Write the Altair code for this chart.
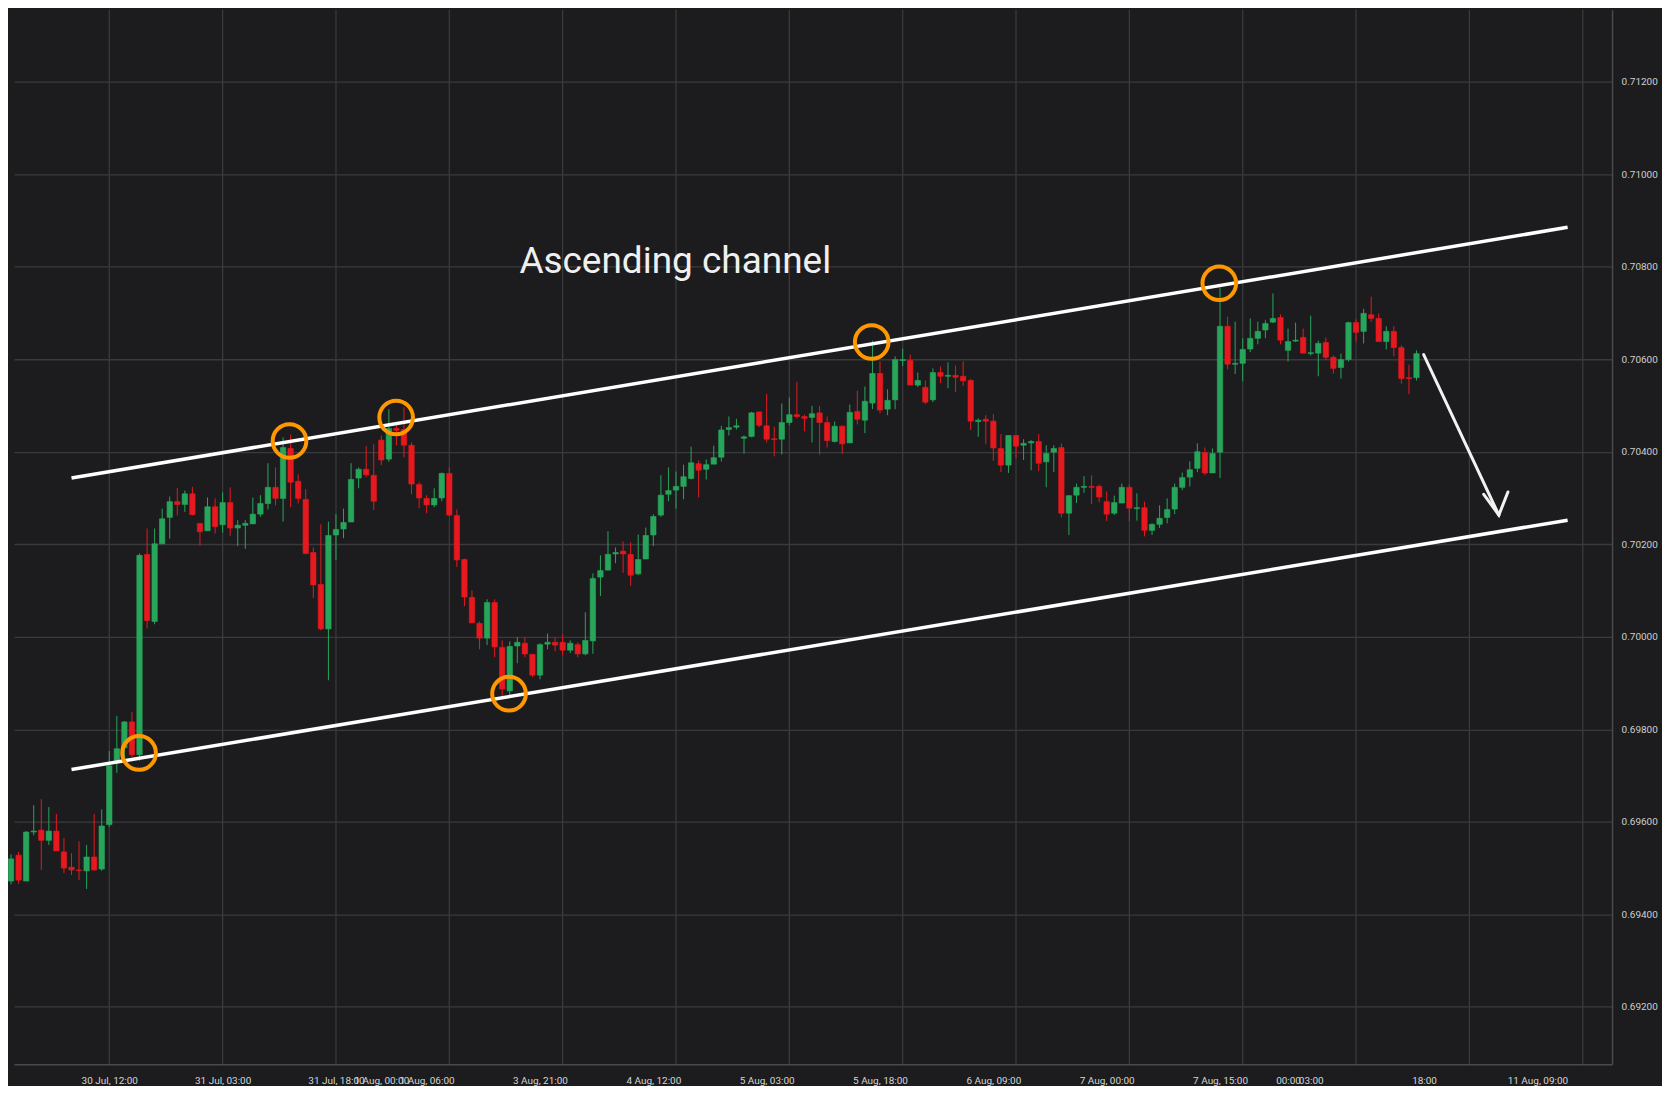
import altair as alt
import pandas as pd

# ---------------- data ----------------
# candle index (hours, 0 = 30 Jul 12:00 on the chart's compressed time axis)
idx = list(range(-13, 174))

opens = [
    0.69472, 0.69528, 0.69472, 0.69578, 0.69582, 0.69560, 0.69580, 0.69535, 0.69502, 0.69496,
    0.69494, 0.69524, 0.69498, 0.69594, 0.69732, 0.69760, 0.69816, 0.69745, 0.70178, 0.70033,
    0.70201, 0.70258, 0.70292, 0.70286, 0.70309, 0.70245, 0.70229, 0.70281, 0.70242, 0.70290,
    0.70235, 0.70241, 0.70244, 0.70265, 0.70288, 0.70323, 0.70299, 0.70407, 0.70336, 0.70297,
    0.70182, 0.70113, 0.70017, 0.70220, 0.70233, 0.70248, 0.70343, 0.70362, 0.70349, 0.70425,
    0.70384, 0.70450, 0.70448, 0.70414, 0.70329, 0.70299, 0.70285, 0.70300, 0.70353, 0.70262,
    0.70167, 0.70085, 0.70029, 0.69997, 0.70074, 0.69977, 0.69883, 0.69980, 0.69986, 0.69962,
    0.69917, 0.69984, 0.69988, 0.69988, 0.69971, 0.69983, 0.69963, 0.69991, 0.70129, 0.70144,
    0.70179, 0.70185, 0.70178, 0.70136, 0.70168, 0.70220, 0.70263, 0.70308, 0.70317, 0.70325,
    0.70342, 0.70374, 0.70362, 0.70373, 0.70388, 0.70448, 0.70453, 0.70429, 0.70433, 0.70486,
    0.70456, 0.70428, 0.70427, 0.70463, 0.70480, 0.70476, 0.70474, 0.70484, 0.70463, 0.70422,
    0.70455, 0.70419, 0.70487, 0.70468, 0.70505, 0.70569, 0.70492, 0.70512, 0.70597, 0.70597,
    0.70544, 0.70539, 0.70512, 0.70571, 0.70563, 0.70565, 0.70563, 0.70554, 0.70465, 0.70470,
    0.70466, 0.70407, 0.70371, 0.70435, 0.70414, 0.70419, 0.70422, 0.70378, 0.70399, 0.70409,
    0.70267, 0.70306, 0.70323, 0.70325, 0.70325, 0.70292, 0.70267, 0.70289, 0.70323, 0.70277,
    0.70279, 0.70230, 0.70243, 0.70258, 0.70276, 0.70323, 0.70345, 0.70364, 0.70398, 0.70354,
    0.70399, 0.70671, 0.70589, 0.70591, 0.70622, 0.70645, 0.70663, 0.70680, 0.70690, 0.70619,
    0.70639, 0.70647, 0.70612, 0.70613, 0.70636, 0.70604, 0.70582, 0.70599, 0.70679, 0.70660,
    0.70696, 0.70688, 0.70638, 0.70660, 0.70625, 0.70560, 0.70560,
]
highs = [
    0.69530, 0.69535, 0.69580, 0.69636, 0.69649, 0.69632, 0.69617, 0.69565, 0.69532, 0.69558,
    0.69550, 0.69617, 0.69627, 0.69753, 0.69829, 0.69818, 0.69837, 0.70180, 0.70234, 0.70234,
    0.70277, 0.70303, 0.70322, 0.70316, 0.70324, 0.70245, 0.70301, 0.70299, 0.70312, 0.70323,
    0.70252, 0.70252, 0.70301, 0.70306, 0.70375, 0.70366, 0.70431, 0.70437, 0.70351, 0.70319,
    0.70193, 0.70243, 0.70249, 0.70265, 0.70277, 0.70375, 0.70366, 0.70412, 0.70416, 0.70435,
    0.70492, 0.70461, 0.70496, 0.70420, 0.70334, 0.70306, 0.70321, 0.70355, 0.70366, 0.70275,
    0.70169, 0.70100, 0.70033, 0.70081, 0.70081, 0.69992, 0.69990, 0.69999, 0.69999, 0.69962,
    0.69986, 0.70007, 0.69999, 0.70005, 0.69992, 0.69988, 0.70053, 0.70137, 0.70176, 0.70228,
    0.70193, 0.70206, 0.70204, 0.70221, 0.70236, 0.70265, 0.70349, 0.70366, 0.70357, 0.70372,
    0.70411, 0.70381, 0.70383, 0.70413, 0.70456, 0.70476, 0.70471, 0.70435, 0.70486, 0.70486,
    0.70525, 0.70454, 0.70504, 0.70517, 0.70551, 0.70480, 0.70499, 0.70499, 0.70476, 0.70465,
    0.70457, 0.70502, 0.70532, 0.70541, 0.70640, 0.70595, 0.70535, 0.70606, 0.70623, 0.70610,
    0.70571, 0.70554, 0.70580, 0.70584, 0.70593, 0.70586, 0.70595, 0.70557, 0.70472, 0.70479,
    0.70481, 0.70438, 0.70435, 0.70435, 0.70427, 0.70425, 0.70438, 0.70414, 0.70414, 0.70418,
    0.70305, 0.70331, 0.70347, 0.70349, 0.70329, 0.70314, 0.70305, 0.70331, 0.70329, 0.70310,
    0.70292, 0.70245, 0.70284, 0.70299, 0.70331, 0.70355, 0.70379, 0.70418, 0.70409, 0.70407,
    0.70755, 0.70692, 0.70681, 0.70645, 0.70688, 0.70681, 0.70684, 0.70742, 0.70697, 0.70666,
    0.70679, 0.70666, 0.70694, 0.70640, 0.70647, 0.70608, 0.70612, 0.70681, 0.70686, 0.70709,
    0.70735, 0.70699, 0.70671, 0.70671, 0.70630, 0.70588, 0.70619,
]
lows = [
    0.69465, 0.69466, 0.69472, 0.69571, 0.69496, 0.69550, 0.69537, 0.69489, 0.69485, 0.69474,
    0.69455, 0.69494, 0.69494, 0.69589, 0.69706, 0.69739, 0.69740, 0.69732, 0.70018, 0.70027,
    0.70201, 0.70212, 0.70262, 0.70270, 0.70262, 0.70197, 0.70229, 0.70223, 0.70225, 0.70218,
    0.70196, 0.70190, 0.70244, 0.70259, 0.70275, 0.70284, 0.70249, 0.70280, 0.70288, 0.70178,
    0.70084, 0.70014, 0.69906, 0.70166, 0.70213, 0.70248, 0.70321, 0.70345, 0.70274, 0.70371,
    0.70378, 0.70414, 0.70388, 0.70308, 0.70278, 0.70267, 0.70280, 0.70293, 0.70261, 0.70151,
    0.70066, 0.70030, 0.69973, 0.69982, 0.69956, 0.69867, 0.69867, 0.69943, 0.69956, 0.69913,
    0.69908, 0.69973, 0.69969, 0.69960, 0.69965, 0.69956, 0.69960, 0.69963, 0.70088, 0.70144,
    0.70159, 0.70138, 0.70110, 0.70133, 0.70168, 0.70196, 0.70259, 0.70293, 0.70277, 0.70297,
    0.70340, 0.70301, 0.70340, 0.70373, 0.70379, 0.70435, 0.70448, 0.70396, 0.70431, 0.70453,
    0.70420, 0.70390, 0.70394, 0.70457, 0.70472, 0.70444, 0.70420, 0.70394, 0.70409, 0.70420,
    0.70395, 0.70419, 0.70459, 0.70440, 0.70492, 0.70483, 0.70479, 0.70492, 0.70585, 0.70544,
    0.70540, 0.70503, 0.70507, 0.70548, 0.70537, 0.70529, 0.70542, 0.70447, 0.70432, 0.70417,
    0.70380, 0.70356, 0.70354, 0.70386, 0.70382, 0.70360, 0.70358, 0.70323, 0.70356, 0.70258,
    0.70220, 0.70289, 0.70311, 0.70287, 0.70291, 0.70250, 0.70263, 0.70289, 0.70250, 0.70251,
    0.70217, 0.70220, 0.70235, 0.70245, 0.70265, 0.70317, 0.70325, 0.70356, 0.70349, 0.70354,
    0.70343, 0.70578, 0.70568, 0.70552, 0.70615, 0.70632, 0.70645, 0.70678, 0.70632, 0.70595,
    0.70637, 0.70613, 0.70608, 0.70563, 0.70599, 0.70569, 0.70558, 0.70595, 0.70638, 0.70634,
    0.70681, 0.70638, 0.70621, 0.70606, 0.70547, 0.70524, 0.70554,
]
closes = [
    0.69520, 0.69474, 0.69578, 0.69580, 0.69560, 0.69580, 0.69537, 0.69500, 0.69496, 0.69495,
    0.69524, 0.69496, 0.69591, 0.69721, 0.69758, 0.69816, 0.69745, 0.70176, 0.70035, 0.70201,
    0.70255, 0.70292, 0.70286, 0.70309, 0.70264, 0.70227, 0.70281, 0.70238, 0.70290, 0.70235,
    0.70241, 0.70245, 0.70265, 0.70288, 0.70323, 0.70299, 0.70409, 0.70334, 0.70299, 0.70180,
    0.70112, 0.70017, 0.70219, 0.70232, 0.70247, 0.70340, 0.70362, 0.70350, 0.70293, 0.70382,
    0.70450, 0.70446, 0.70414, 0.70330, 0.70300, 0.70285, 0.70299, 0.70353, 0.70263, 0.70166,
    0.70086, 0.70030, 0.69997, 0.70074, 0.69978, 0.69887, 0.69979, 0.69988, 0.69963, 0.69917,
    0.69983, 0.69988, 0.69982, 0.69971, 0.69986, 0.69963, 0.69992, 0.70126, 0.70143, 0.70178,
    0.70182, 0.70179, 0.70133, 0.70167, 0.70219, 0.70260, 0.70306, 0.70316, 0.70325, 0.70346,
    0.70376, 0.70360, 0.70372, 0.70387, 0.70447, 0.70452, 0.70456, 0.70432, 0.70484, 0.70457,
    0.70427, 0.70426, 0.70463, 0.70480, 0.70476, 0.70472, 0.70482, 0.70463, 0.70424, 0.70455,
    0.70417, 0.70485, 0.70470, 0.70509, 0.70569, 0.70490, 0.70511, 0.70599, 0.70599, 0.70544,
    0.70554, 0.70507, 0.70571, 0.70563, 0.70565, 0.70561, 0.70553, 0.70466, 0.70468, 0.70466,
    0.70408, 0.70371, 0.70435, 0.70412, 0.70418, 0.70422, 0.70375, 0.70396, 0.70407, 0.70267,
    0.70305, 0.70323, 0.70325, 0.70323, 0.70302, 0.70265, 0.70290, 0.70323, 0.70278, 0.70279,
    0.70230, 0.70243, 0.70256, 0.70275, 0.70323, 0.70344, 0.70361, 0.70400, 0.70354, 0.70396,
    0.70671, 0.70589, 0.70591, 0.70621, 0.70645, 0.70660, 0.70677, 0.70688, 0.70641, 0.70638,
    0.70641, 0.70613, 0.70614, 0.70634, 0.70604, 0.70580, 0.70599, 0.70679, 0.70658, 0.70699,
    0.70688, 0.70638, 0.70660, 0.70625, 0.70558, 0.70558, 0.70612,
]

# x-axis labels (candle index -> text) and vertical grid positions
label_idx = [0, 15, 30, 36, 42, 57, 72, 87, 102, 117, 132, 147, 156, 159, 174, 189]
label_txt = ["30 Jul, 12:00", "31 Jul, 03:00", "31 Jul, 18:00", "1 Aug, 00:00",
             "1 Aug, 06:00", "3 Aug, 21:00", "4 Aug, 12:00", "5 Aug, 03:00",
             "5 Aug, 18:00", "6 Aug, 09:00", "7 Aug, 00:00", "7 Aug, 15:00",
             "00:00", "03:00", "18:00", "11 Aug, 09:00"]
grid_idx = [0, 15, 30, 45, 60, 75, 90, 105, 120, 135, 150, 165, 180, 195]
price_ticks = [0.692, 0.694, 0.696, 0.698, 0.700, 0.702, 0.704, 0.706, 0.708, 0.710, 0.712]

# channel lines (start / end points)
chan_name = ["upper", "upper", "lower", "lower"]
chan_idx = [-5.0, 193.0, -5.0, 193.0]
chan_val = [0.70343, 0.70885, 0.69713, 0.70252]

# touch circles
circ_idx = [3.94, 23.85, 37.96, 52.9, 100.9, 146.9]
circ_val = [0.69749, 0.70423, 0.70474, 0.69877, 0.70637, 0.70764]

# arrow (shaft + head)
arrow_seg = ["shaft", "shaft", "head", "head", "head"]
arrow_idx = [173.95, 183.9, 181.9, 183.9, 185.1]
arrow_val = [0.70610, 0.70263, 0.70308, 0.70263, 0.70313]

note_text = ["Ascending channel"]
note_idx = [74.9]
note_val = [0.70809]

# ---------------- styling ----------------
BG = "#1c1c1e"
GRID = "#3a3a3c"
UP = "#27a65b"
DOWN = "#e5191e"
AXIS_FONT = "Liberation Sans Narrow, Roboto, sans-serif"

x_dom = [-11.95, 198.22]
y_dom = [0.690758, 0.713554]

candles = pd.DataFrame({"k": idx, "o": opens, "h": highs, "l": lows, "c": closes})
grid_df = pd.DataFrame({"k": grid_idx})
chan_df = pd.DataFrame({"line": chan_name, "k": chan_idx, "v": chan_val})
circ_df = pd.DataFrame({"k": circ_idx, "v": circ_val})
arrow_df = pd.DataFrame({"seg": arrow_seg, "k": arrow_idx, "v": arrow_val})
note_df = pd.DataFrame({"t": note_text, "k": note_idx, "v": note_val})

label_expr = "".join(
    f"datum.value == {k} ? '{t}' : " for k, t in zip(label_idx, label_txt)
) + "''"

xscale = alt.Scale(domain=x_dom, nice=False, zero=False)
yscale = alt.Scale(domain=y_dom, nice=False, zero=False)

x_axis = alt.Axis(
    values=label_idx, labelExpr=label_expr, grid=False, ticks=False,
    domain=True, domainColor="#4a4a4c", domainWidth=1.5,
    labelColor="#d6d6d6", labelFont=AXIS_FONT, labelFontSize=10,
    labelPadding=11, labelOverlap=False, labelFlush=False, labelBound=False,
    title=None,
)
y_axis = alt.Axis(
    orient="right", values=price_ticks, format=".5f", grid=True,
    gridColor=GRID, gridWidth=1.3, ticks=False, domain=True,
    domainColor="#4a4a4c", domainWidth=1.5,
    labelColor="#cfcfcf", labelFont=AXIS_FONT, labelFontSize=10,
    labelPadding=9, labelOverlap=False, labelFlush=False, title=None,
)

color_scale = alt.Scale(domain=["up", "down"], range=[UP, DOWN])

base = alt.Chart(candles).transform_calculate(
    dir="datum.c >= datum.o ? 'up' : 'down'",
    bt="max(datum.o, datum.c)",
    bb0="min(datum.o, datum.c)",
).transform_calculate(
    bb="datum.bt - datum.bb0 < 0.000015 ? datum.bt - 0.000015 : datum.bb0"
)

grid_rules = alt.Chart(grid_df).mark_rule(color=GRID, strokeWidth=1.3).encode(
    x=alt.X("k:Q", scale=xscale, axis=x_axis)
)

wicks = base.mark_rule(strokeWidth=1).encode(
    x=alt.X("k:Q", scale=xscale, axis=x_axis),
    y=alt.Y("l:Q", scale=yscale, axis=y_axis),
    y2="h:Q",
    color=alt.Color("dir:N", scale=color_scale, legend=None),
)

bodies = base.mark_bar(width=5.4, strokeWidth=0.6).encode(
    x=alt.X("k:Q", scale=xscale),
    y=alt.Y("bt:Q", scale=yscale),
    y2="bb:Q",
    color=alt.Color("dir:N", scale=color_scale, legend=None),
    stroke=alt.Stroke("dir:N", scale=color_scale, legend=None),
)

channel = alt.Chart(chan_df).mark_line(color="#ffffff", strokeWidth=3.5).encode(
    x=alt.X("k:Q", scale=xscale),
    y=alt.Y("v:Q", scale=yscale),
    detail="line:N",
)

circles = alt.Chart(circ_df).mark_point(
    shape="circle", size=1134, filled=False, strokeWidth=4, color="#ff9800", opacity=1
).encode(
    x=alt.X("k:Q", scale=xscale),
    y=alt.Y("v:Q", scale=yscale),
)

arrow = alt.Chart(arrow_df).mark_line(color="#f2f2f2", strokeWidth=3, strokeCap="round").encode(
    x=alt.X("k:Q", scale=xscale),
    y=alt.Y("v:Q", scale=yscale),
    detail="seg:N",
    order=alt.Order("k:Q"),
)

note = alt.Chart(note_df).mark_text(
    font="Roboto", fontSize=37, color="#f0f0f0", align="center", baseline="middle"
).encode(
    x=alt.X("k:Q", scale=xscale),
    y=alt.Y("v:Q", scale=yscale),
    text="t:N",
)

chart = alt.layer(grid_rules, wicks, bodies, channel, circles, arrow, note).properties(
    width=1600, height=1056, background=BG,
    padding={"left": 0, "top": 0, "right": 4, "bottom": 0},
).configure_view(stroke=None)

chart.save("out.html", embed_options={"renderer": "svg", "actions": False})
